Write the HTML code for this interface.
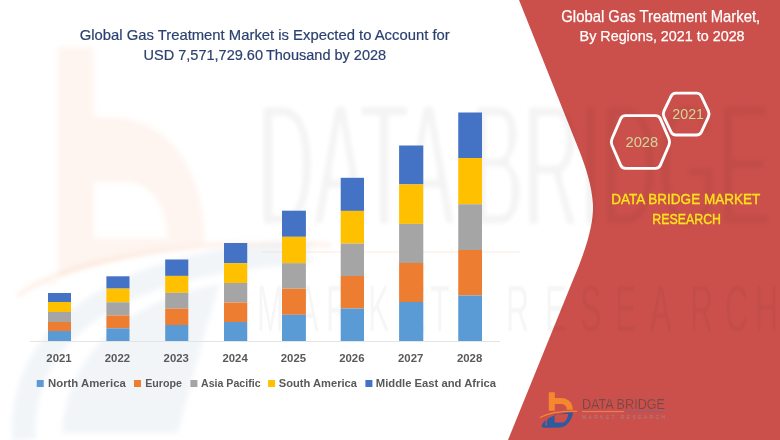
<!DOCTYPE html>
<html><head><meta charset="utf-8"><style>
html,body{margin:0;padding:0;background:#fff;overflow:hidden;}
svg{display:block;font-family:"Liberation Sans",sans-serif;}
</style></head><body>
<svg width="780" height="440" viewBox="0 0 780 440">
<rect width="780" height="440" fill="#ffffff"/>
<defs><filter id="bl" x="-10%" y="-10%" width="120%" height="120%"><feGaussianBlur stdDeviation="2.5"/></filter></defs>
<g filter="url(#bl)">
<path fill-rule="evenodd" fill="#fbe0d0" opacity="0.32" d="M58,47 H93.5 V117 H110 C165,117 205,165 205,244 C140,252 70,270 29,291 C40,286 50,284 58,283 Z M94,182 V238 H167 C167,205 150,182 125,182 Z"/>
<path d="M18,296 C40,278 90,258 200,246 C240,243 290,244 330,245" fill="none" stroke="#f8c8a8" stroke-width="4" opacity="0.3"/>
<path d="M24,440 C18,350 90,262 310,252" fill="none" stroke="#e3e8ef" stroke-width="24" opacity="0.45"/>
<path fill="#e3e8ef" opacity="0.45" d="M62,433 C66,360 120,300 220,284 C205,330 190,390 178,433 Z"/>
</g>

<path d="M519,0 L780,0 L780,440 L508,440 L573,280 C588,245 593.5,222 593,205 C592,186 586,168 579,150 Z" fill="#cb504b"/>
<defs><filter id="thin" x="-5%" y="-5%" width="110%" height="110%"><feMorphology operator="erode" radius="0 4"/><feGaussianBlur stdDeviation="2.3"/></filter>
<filter id="thin2" x="-5%" y="-5%" width="110%" height="110%"><feMorphology operator="erode" radius="0.6 0"/><feGaussianBlur stdDeviation="1"/></filter></defs>
<g opacity="0.042" filter="url(#thin)">
<text x="258" y="226" font-size="176" fill="#000" stroke="#000" stroke-width="3" textLength="512" lengthAdjust="spacingAndGlyphs">DATA BRIDGE</text>
</g>
<rect x="262" y="251" width="258" height="2" fill="#f5a070" opacity="0.1"/>
<g opacity="0.035" filter="url(#thin2)" transform="translate(0,0) scale(0.5,1)">
<text y="331" font-size="64" fill="#000" x="514 594 652 736 810 860 1012 1090 1160 1230 1300 1380 1450 1510">MARKETRESEARCH</text>
</g>

<line x1="30" y1="341.5" x2="500" y2="341.5" stroke="#e4e4e4" stroke-width="1"/>
<rect x="48.00" y="293.00" width="23.00" height="9.00" fill="#4472c4"/>
<rect x="48.00" y="302.00" width="23.00" height="10.00" fill="#ffc000"/>
<rect x="48.00" y="312.00" width="23.00" height="10.00" fill="#a5a5a5"/>
<rect x="48.00" y="322.00" width="23.00" height="9.00" fill="#ed7d31"/>
<rect x="48.00" y="331.00" width="23.00" height="10.00" fill="#5b9bd5"/>
<text x="46.35" y="362.30" font-size="11.77" font-weight="bold" fill="#595959" textLength="25.30" lengthAdjust="spacingAndGlyphs" >2021</text>
<rect x="106.40" y="276.30" width="23.10" height="12.30" fill="#4472c4"/>
<rect x="106.40" y="288.60" width="23.10" height="13.70" fill="#ffc000"/>
<rect x="106.40" y="302.30" width="23.10" height="13.10" fill="#a5a5a5"/>
<rect x="106.40" y="315.40" width="23.10" height="12.90" fill="#ed7d31"/>
<rect x="106.40" y="328.30" width="23.10" height="12.70" fill="#5b9bd5"/>
<text x="104.80" y="362.30" font-size="11.77" font-weight="bold" fill="#595959" textLength="25.30" lengthAdjust="spacingAndGlyphs" >2022</text>
<rect x="165.20" y="259.50" width="23.10" height="16.40" fill="#4472c4"/>
<rect x="165.20" y="275.90" width="23.10" height="16.90" fill="#ffc000"/>
<rect x="165.20" y="292.80" width="23.10" height="15.80" fill="#a5a5a5"/>
<rect x="165.20" y="308.60" width="23.10" height="16.40" fill="#ed7d31"/>
<rect x="165.20" y="325.00" width="23.10" height="16.00" fill="#5b9bd5"/>
<text x="163.60" y="362.30" font-size="11.77" font-weight="bold" fill="#595959" textLength="25.30" lengthAdjust="spacingAndGlyphs" >2023</text>
<rect x="224.00" y="243.00" width="23.25" height="20.25" fill="#4472c4"/>
<rect x="224.00" y="263.25" width="23.25" height="19.75" fill="#ffc000"/>
<rect x="224.00" y="283.00" width="23.25" height="19.50" fill="#a5a5a5"/>
<rect x="224.00" y="302.50" width="23.25" height="19.50" fill="#ed7d31"/>
<rect x="224.00" y="322.00" width="23.25" height="19.00" fill="#5b9bd5"/>
<text x="222.47" y="362.30" font-size="11.77" font-weight="bold" fill="#595959" textLength="25.30" lengthAdjust="spacingAndGlyphs" >2024</text>
<rect x="282.00" y="210.70" width="23.90" height="26.10" fill="#4472c4"/>
<rect x="282.00" y="236.80" width="23.90" height="26.40" fill="#ffc000"/>
<rect x="282.00" y="263.20" width="23.90" height="25.50" fill="#a5a5a5"/>
<rect x="282.00" y="288.70" width="23.90" height="26.10" fill="#ed7d31"/>
<rect x="282.00" y="314.80" width="23.90" height="26.20" fill="#5b9bd5"/>
<text x="280.80" y="362.30" font-size="11.77" font-weight="bold" fill="#595959" textLength="25.30" lengthAdjust="spacingAndGlyphs" >2025</text>
<rect x="340.70" y="177.80" width="23.30" height="33.10" fill="#4472c4"/>
<rect x="340.70" y="210.90" width="23.30" height="32.70" fill="#ffc000"/>
<rect x="340.70" y="243.60" width="23.30" height="32.40" fill="#a5a5a5"/>
<rect x="340.70" y="276.00" width="23.30" height="32.50" fill="#ed7d31"/>
<rect x="340.70" y="308.50" width="23.30" height="32.50" fill="#5b9bd5"/>
<text x="339.20" y="362.30" font-size="11.77" font-weight="bold" fill="#595959" textLength="25.30" lengthAdjust="spacingAndGlyphs" >2026</text>
<rect x="399.10" y="145.50" width="24.20" height="38.90" fill="#4472c4"/>
<rect x="399.10" y="184.40" width="24.20" height="39.50" fill="#ffc000"/>
<rect x="399.10" y="223.90" width="24.20" height="39.10" fill="#a5a5a5"/>
<rect x="399.10" y="263.00" width="24.20" height="39.00" fill="#ed7d31"/>
<rect x="399.10" y="302.00" width="24.20" height="39.00" fill="#5b9bd5"/>
<text x="398.05" y="362.30" font-size="11.77" font-weight="bold" fill="#595959" textLength="25.30" lengthAdjust="spacingAndGlyphs" >2027</text>
<rect x="458.25" y="112.50" width="23.75" height="45.50" fill="#4472c4"/>
<rect x="458.25" y="158.00" width="23.75" height="46.25" fill="#ffc000"/>
<rect x="458.25" y="204.25" width="23.75" height="45.75" fill="#a5a5a5"/>
<rect x="458.25" y="250.00" width="23.75" height="45.50" fill="#ed7d31"/>
<rect x="458.25" y="295.50" width="23.75" height="45.50" fill="#5b9bd5"/>
<text x="456.98" y="362.30" font-size="11.77" font-weight="bold" fill="#595959" textLength="25.30" lengthAdjust="spacingAndGlyphs" >2028</text>
<rect x="36.7" y="380" width="7" height="7" fill="#5b9bd5"/>
<text x="48.00" y="387.10" font-size="11.19" font-weight="bold" fill="#595959" textLength="77.83" lengthAdjust="spacingAndGlyphs" >North America</text>
<rect x="134" y="380" width="7" height="7" fill="#ed7d31"/>
<text x="145.20" y="387.10" font-size="11.19" font-weight="bold" fill="#595959" textLength="36.90" lengthAdjust="spacingAndGlyphs" >Europe</text>
<rect x="190.4" y="380" width="7" height="7" fill="#a5a5a5"/>
<text x="201.00" y="387.10" font-size="11.19" font-weight="bold" fill="#595959" textLength="59.59" lengthAdjust="spacingAndGlyphs" >Asia Pacific</text>
<rect x="268.1" y="380" width="7" height="7" fill="#ffc000"/>
<text x="278.80" y="387.10" font-size="11.19" font-weight="bold" fill="#595959" textLength="78.19" lengthAdjust="spacingAndGlyphs" >South America</text>
<rect x="365.4" y="380" width="7" height="7" fill="#4472c4"/>
<text x="375.80" y="387.10" font-size="11.19" font-weight="bold" fill="#595959" textLength="120.32" lengthAdjust="spacingAndGlyphs" >Middle East and Africa</text>
<text x="79.70" y="40.30" font-size="15.12" font-weight="normal" fill="#2b4170" textLength="370.02" lengthAdjust="spacingAndGlyphs" stroke="#2b4170" stroke-width="0.2">Global Gas Treatment Market is Expected to Account for</text>
<text x="143.60" y="60.10" font-size="15.26" font-weight="normal" fill="#2b4170" textLength="242.57" lengthAdjust="spacingAndGlyphs" stroke="#2b4170" stroke-width="0.2">USD 7,571,729.60 Thousand by 2028</text>
<text x="561.30" y="22.00" font-size="15.99" font-weight="normal" fill="#ffffff" textLength="198.89" lengthAdjust="spacingAndGlyphs" stroke="#ffffff" stroke-width="0.25">Global Gas Treatment Market,</text>
<text x="579.60" y="40.90" font-size="15.55" font-weight="normal" fill="#ffffff" textLength="164.98" lengthAdjust="spacingAndGlyphs" stroke="#ffffff" stroke-width="0.25">By Regions, 2021 to 2028</text>
<text x="611.30" y="204.00" font-size="15.12" font-weight="normal" fill="#ffe51a" textLength="148.91" lengthAdjust="spacingAndGlyphs" stroke="#ffe51a" stroke-width="0.35">DATA BRIDGE MARKET</text>
<text x="652.30" y="223.60" font-size="15.12" font-weight="normal" fill="#ffe51a" textLength="68.72" lengthAdjust="spacingAndGlyphs" stroke="#ffe51a" stroke-width="0.35">RESEARCH</text>
<path d="M620.61,118.81 Q622.00,115.60 625.50,115.60 L655.50,115.60 Q659.00,115.60 660.38,118.82 L668.92,138.78 Q670.30,142.00 668.92,145.22 L660.38,165.18 Q659.00,168.40 655.50,168.40 L625.50,168.40 Q622.00,168.40 620.61,165.19 L611.99,145.21 Q610.60,142.00 611.99,138.79 Z" fill="none" stroke="#ffffff" stroke-width="2.9"/>
<path d="M670.99,96.26 Q672.50,93.10 676.00,93.10 L696.50,93.10 Q700.00,93.10 701.48,96.27 L708.32,110.88 Q709.80,114.05 708.32,117.22 L701.48,131.83 Q700.00,135.00 696.50,135.00 L676.00,135.00 Q672.50,135.00 670.99,131.84 L664.01,117.21 Q662.50,114.05 664.01,110.89 Z" fill="none" stroke="#ffffff" stroke-width="2.9"/>
<text x="625.50" y="147.30" font-size="15.55" font-weight="normal" fill="#cfd79c" textLength="32.70" lengthAdjust="spacingAndGlyphs" >2028</text>
<text x="672.30" y="119.10" font-size="14.68" font-weight="normal" fill="#cfd79c" textLength="31.70" lengthAdjust="spacingAndGlyphs" >2021</text>
<g>
<path d="M548.8,392.2 H554.8 V398 H561 C568.5,398 572.8,403 572.8,409.8 H566.8 C566.8,406.2 564.5,404 561,404 H554.8 V410.8 H548.8 Z" fill="#f5872f"/>
<path d="M540,417.5 C550,412.5 562,410.8 577,411.3" fill="none" stroke="#f5872f" stroke-width="1.3"/>
<path fill-rule="evenodd" fill="#2e5aa0" d="M541.5,426.5 C543,419 556,412.6 573,412.5 C572,419.5 567.5,426.8 560,427.6 L549,427.8 C545.5,427.9 542,428 541.5,426.5 Z M554.6,414.6 L554.6,422.6 L561.5,422.6 C565.5,422.6 567.8,418 568.2,413.9 C563,413.9 558.5,414.1 554.6,414.6 Z"/>
<path d="M548,418 C546,420.5 545.5,423 546.5,425.5" fill="none" stroke="#cb504b" stroke-width="1.2"/>
<text x="582" y="409.3" font-size="15.5" fill="#5a4847" stroke="#cb504b" stroke-width="0.45" textLength="83" lengthAdjust="spacingAndGlyphs">DATA BRIDGE</text>
<rect x="582" y="411.2" width="42" height="0.9" fill="#f08c50"/>
<rect x="625" y="411.2" width="40" height="0.9" fill="#8d5f86"/>
<text x="582" y="418.6" font-size="4.8" fill="#a88480" textLength="83" lengthAdjust="spacing">MARKET   RESEARCH</text>
</g>

</svg></body></html>
